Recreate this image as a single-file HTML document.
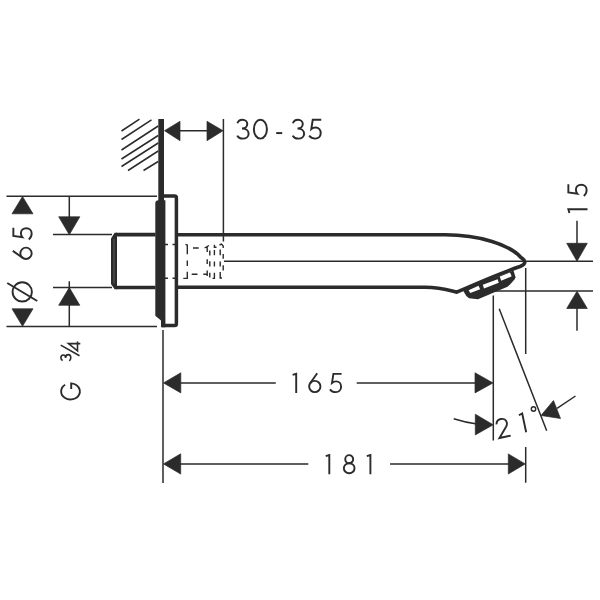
<!DOCTYPE html>
<html><head><meta charset="utf-8"><style>
html,body{margin:0;padding:0;background:#fff;width:600px;height:600px;overflow:hidden;font-family:"Liberation Sans",sans-serif}
svg{display:block}
</style></head><body><svg width="600" height="600" viewBox="0 0 600 600"><path d="M121.5,131 L139.5,119.2 M121.5,139.5 L151.5,119.8 M121.5,150 L158.2,126 M121.5,159 L158.2,135.5 M121.5,166.5 L158.2,143 M128,170.5 L158.2,151 M143.5,170.5 L158.2,161.5 M6.5,196.2 L157,196.2 M6.5,326.4 L157,326.4 M53,234.5 L112,234.5 M53,287.5 L112,287.5 M492,291.1 L593,291.1 M163,330 L163,483 M493.3,295.5 L493.3,440.5 M525.7,268 L525.7,354 M525.7,447 L525.7,482.8 M223.4,119 L223.4,241.6 M224,261.2 L593,261.2 M175,130.7 L212,130.7 M69.3,196.2 L69.3,218 M69.3,281.3 L69.3,326.4 M577,220.8 L577,245 M577,306 L577,330.7 M178,382.9 L275.8,382.9 M356.7,382.9 L477,382.9 M178,463.9 L308.3,463.9 M390,463.9 L510,463.9 M499.2,308.7 L546.7,430.8 M575.5,396 L557,408.3 M453.7,418.8 Q465,422.5 477,423.9" fill="none" stroke="#2b2b2b" stroke-width="1.5"/><path d="M164.5,130.7 L180,121.3 L180,140.7 Z M223,130.7 L207,121.3 L207,140.7 Z M22.5,196.5 L12,213.8 L33,213.8 Z M22.5,326.3 L12,308.8 L33,308.8 Z M69.3,234.7 L58.7,216.8 L79.8,216.8 Z M69.3,287.5 L58.7,305.3 L79.8,305.3 Z M577,261.3 L566.7,243.3 L587.3,243.3 Z M577,291.2 L566.7,308.5 L587.3,308.5 Z M163.5,382.9 L180.8,372.8 L180.8,392.9 Z M493,382.9 L475,372.8 L475,392.9 Z M163.5,463.9 L180.7,453.8 L180.7,474.1 Z M525.2,463.9 L508.3,453.9 L508.3,474 Z M493.2,424.8 L475.3,414.2 L475.3,434.9 Z M541,415.5 L553.5,400.5 L560.5,418.5 Z" fill="#2b2b2b" stroke="#2b2b2b" stroke-width="0.7" stroke-linejoin="round"/><rect x="158.3" y="119" width="5.7" height="85" fill="#2b2b2b"/><path d="M155.3,203.5 Q155.3,200.3 158.5,200.3 H165.4 V327.3 H161 V320.5 L155.3,315.8 Z" fill="#2b2b2b"/><path d="M163,196 H174.6 Q176.4,196 176.4,198 V323.8 Q176.4,325.6 174.6,325.6 H162" fill="none" stroke="#2b2b2b" stroke-width="3.5"/><path d="M165,244.5 H168 M172.5,244.5 H175 M165,278.2 H168 M172.5,278.2 H175" stroke="#2b2b2b" stroke-width="1.4"/><path d="M155.5,234.6 H116 M155.5,287.5 H116" fill="none" stroke="#2b2b2b" stroke-width="3.6"/><path d="M111,238.5 L114.6,232.8 H117 V289.3 H114.6 L111,284 Z" fill="#2b2b2b"/><path d="M114,239 V283.5" stroke="#5a5a5a" stroke-width="1.1"/><path d="M176,234.8 H445 C480,234.8 510,245 521,257.5 Q529,263 520,266.5 C500,273.2 471.7,285.6 456.7,292.2 C448,290 440,287.3 425,287.3 H176" fill="none" stroke="#2b2b2b" stroke-width="3.6" stroke-linejoin="round"/><path d="M463,290.5 L488,280 L513.5,270.5 L515.5,277.3 L514.5,279.5 L510,284.5 L507.5,286.8 L478,299.2 L469,298.3 L466.3,296 Z" fill="#2b2b2b"/><path d="M468.6,290.3 L478.5,285.8 L480.2,289.2 L470.3,293 Z M482.8,284.8 L497.6,279.2 L498.8,282.8 L484,288.4 Z M499.8,276.6 L510,272.6 L511.7,276.3 L501.2,280.8 Z" fill="#fff"/><path d="M185.5,244.3 L187.3,245 V254.2 M187.3,260.5 V266 M187.3,271.8 V278.4 H183.3 M193,248 H198.7 M191.7,274.3 H197.5 M204.6,248 L209,245.5 M203.3,274.3 H207.2 M207.2,246.4 V252 M207.2,259.2 V264 M207.2,270.4 V276 M209.8,250.4 V255.6 M209.8,261.2 V266.4 M209.8,272.8 V277.6 M214.4,244.8 V247.2 H216.5 M214.4,250 V255.2 M214.4,261.6 V266.4 M214.4,272.8 V278.4 H212.5 M220.2,249.6 V255.2 M220.2,261.6 V266.4 M220.2,272 V278 H222 M223.2,254 V258.8 M223.2,265.2 V270.4 M219.5,245 L221.5,244 L223.2,246 V248" fill="none" stroke="#2b2b2b" stroke-width="1.4"/><g fill="none" stroke="#2b2b2b" stroke-width="1.9"><path transform="translate(236.3,118.8) scale(1.035)" d="M1.1,4.3 C1.8,2.0 3.8,0.85 6.0,0.85 C8.6,0.85 10.6,2.7 10.6,5.0 C10.6,7.6 8.5,9.4 5.5,9.4 C9.3,9.4 11.9,11.5 11.9,14.4 C11.9,17.2 9.5,19.15 6.3,19.15 C3.8,19.15 1.7,17.9 0.9,16.2"/><path transform="translate(253,118.8) scale(1.035)" d="M0.85,10 A6.3,9.15 0 1 0 13.45,10 A6.3,9.15 0 1 0 0.85,10"/><path transform="translate(276.2,118.8) scale(1.035)" d="M0,13.8 H5.8"/><path transform="translate(291.8,118.8) scale(1.035)" d="M1.1,4.3 C1.8,2.0 3.8,0.85 6.0,0.85 C8.6,0.85 10.6,2.7 10.6,5.0 C10.6,7.6 8.5,9.4 5.5,9.4 C9.3,9.4 11.9,11.5 11.9,14.4 C11.9,17.2 9.5,19.15 6.3,19.15 C3.8,19.15 1.7,17.9 0.9,16.2"/><path transform="translate(308.2,118.8) scale(1.035)" d="M12.6,0.85 H4.4 L3.0,9.9 C4.2,8.9 5.6,8.4 7.1,8.4 C10.2,8.4 12.1,10.8 12.1,13.8 C12.1,17.0 9.8,19.15 6.8,19.15 C4.4,19.15 2.2,17.9 0.9,16.3"/><path transform="translate(292,373)" d="M0.6,1.9 L4.2,0.85 V20"/><path transform="translate(308.3,373)" d="M8.9,0.3 L1.88,10.25"/><path transform="translate(308.3,373)" d="M0.85,13.5 A5.65,5.65 0 1 0 12.15,13.5 A5.65,5.65 0 1 0 0.85,13.5"/><path transform="translate(329,373)" d="M12.6,0.85 H4.4 L3.0,9.9 C4.2,8.9 5.6,8.4 7.1,8.4 C10.2,8.4 12.1,10.8 12.1,13.8 C12.1,17.0 9.8,19.15 6.8,19.15 C4.4,19.15 2.2,17.9 0.9,16.3"/><path transform="translate(325.1,454.2)" d="M0.6,1.9 L4.2,0.85 V20"/><path transform="translate(342.9,454.2)" d="M2.35,4.98 A3.95,4.03 0 1 0 10.25,4.98 A3.95,4.03 0 1 0 2.35,4.98"/><path transform="translate(342.9,454.2)" d="M0.95,14.02 A5.35,5.02 0 1 0 11.65,14.02 A5.35,5.02 0 1 0 0.95,14.02"/><path transform="translate(366.2,454.2)" d="M0.6,1.9 L4.2,0.85 V20"/><path transform="translate(12.5,259.8) rotate(-90)" d="M8.9,0.3 L1.88,10.25"/><path transform="translate(12.5,259.8) rotate(-90)" d="M0.85,13.5 A5.65,5.65 0 1 0 12.15,13.5 A5.65,5.65 0 1 0 0.85,13.5"/><path transform="translate(12.5,240.3) rotate(-90)" d="M12.6,0.85 H4.4 L3.0,9.9 C4.2,8.9 5.6,8.4 7.1,8.4 C10.2,8.4 12.1,10.8 12.1,13.8 C12.1,17.0 9.8,19.15 6.8,19.15 C4.4,19.15 2.2,17.9 0.9,16.3"/><path transform="translate(567.5,213.5) rotate(-90)" d="M0.6,1.9 L4.2,0.85 V20"/><path transform="translate(567.5,196.8) rotate(-90)" d="M12.6,0.85 H4.4 L3.0,9.9 C4.2,8.9 5.6,8.4 7.1,8.4 C10.2,8.4 12.1,10.8 12.1,13.8 C12.1,17.0 9.8,19.15 6.8,19.15 C4.4,19.15 2.2,17.9 0.9,16.3"/><path transform="translate(494.5,419.5) rotate(-12)" d="M1.0,5.2 C1.4,2.5 3.6,0.85 6.3,0.85 C9.2,0.85 11.4,2.9 11.4,5.6 C11.4,7.0 10.9,8.2 10.0,9.3 L1.0,19.15 H12.5"/><path transform="translate(517.9,413.5) rotate(-12)" d="M0.6,1.9 L4.2,0.85 V20"/></g><circle cx="533.5" cy="409" r="2.2" fill="none" stroke="#2b2b2b" stroke-width="1.4"/><circle cx="22.25" cy="291.9" r="9.65" fill="none" stroke="#2b2b2b" stroke-width="1.9"/><path d="M7.25,283 L37.25,301" stroke="#2b2b2b" stroke-width="1.9"/><path transform="translate(60.2,400.4) rotate(-90)" d="M15.6,4.94 A8.05,9.35 0 1 0 17.03,11 H11.4" fill="none" stroke="#2b2b2b" stroke-width="1.9"/><path transform="translate(60.3,361.4) rotate(-90)" d="M5.6,19.2 L16.3,0.4 M0.8,2.4 C1.3,1.1 2.4,0.6 3.7,0.6 C5.3,0.6 6.4,1.6 6.4,3.0 C6.4,4.3 5.3,5.3 3.5,5.3 C5.6,5.3 6.8,6.4 6.8,7.9 C6.8,9.5 5.5,10.5 3.7,10.5 C2.3,10.5 1.1,9.9 0.6,8.8 M17.8,20 V8.2 L10.6,17.2 H19.8" fill="none" stroke="#2b2b2b" stroke-width="1.6"/></svg></body></html>
